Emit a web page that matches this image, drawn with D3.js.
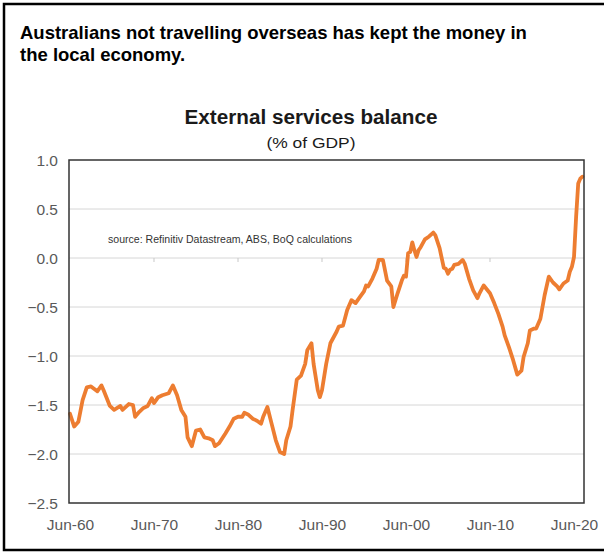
<!DOCTYPE html>
<html>
<head>
<meta charset="utf-8">
<script src="https://cdn.jsdelivr.net/npm/d3@7"></script>
<style>
  html, body { margin: 0; padding: 0; background: #fff; }
  svg { display: block; }
</style>
</head>
<body>
<svg id="chart" width="604" height="552"></svg>
<script>
// Quarterly external services balance, % of GDP (quarter-end month)
const periods = [
  "1960-06","1960-12","1961-06","1961-12","1962-06","1962-12","1963-09","1964-03","1964-06","1965-03",
  "1965-09","1966-06","1966-09","1967-06","1967-12","1968-03","1968-09","1969-03","1969-09","1970-03",
  "1970-06","1970-12","1971-06","1972-03","1972-09","1973-03","1973-09","1974-03","1974-06","1974-12",
  "1975-06","1975-12","1976-06","1976-12","1977-06","1977-09","1978-03","1978-12","1979-06","1979-12",
  "1980-06","1980-12","1981-03","1981-09","1982-03","1982-09","1983-03","1983-06","1983-12","1984-06",
  "1984-12","1985-06","1985-12","1986-03","1986-09","1986-12","1987-06","1987-12","1988-06","1988-09",
  "1989-03","1989-06","1989-12","1990-03","1990-06","1990-12","1991-06","1992-03","1992-06","1992-12",
  "1993-06","1993-12","1994-06","1994-12","1995-06","1995-09","1995-12","1996-06","1996-12","1997-03",
  "1997-09","1998-03","1998-09","1998-12","1999-06","1999-12","2000-03","2000-06","2000-09","2000-12",
  "2001-03","2001-06","2001-09","2001-12","2002-03","2002-09","2003-03","2003-09","2003-12","2004-06",
  "2004-12","2005-03","2005-06","2005-09","2005-12","2006-03","2006-09","2007-03","2007-06","2007-12",
  "2008-06","2008-12","2009-03","2009-09","2010-06","2010-12","2011-06","2011-12","2012-03","2012-09",
  "2013-03","2013-09","2014-03","2014-06","2014-12","2015-03","2015-09","2015-12","2016-06","2016-12",
  "2017-06","2017-12","2018-06","2018-09","2019-03","2019-09","2019-12","2020-03","2020-06","2020-09",
  "2020-12","2021-03","2021-06"
];
const balance = [
  -1.59,-1.72,-1.67,-1.45,-1.32,-1.31,-1.36,-1.30,-1.35,-1.51,
  -1.55,-1.51,-1.55,-1.49,-1.50,-1.62,-1.57,-1.53,-1.51,-1.43,
  -1.48,-1.42,-1.40,-1.38,-1.30,-1.40,-1.55,-1.62,-1.83,-1.92,
  -1.76,-1.75,-1.83,-1.84,-1.86,-1.92,-1.89,-1.79,-1.72,-1.64,
  -1.62,-1.62,-1.58,-1.60,-1.64,-1.66,-1.69,-1.62,-1.52,-1.69,
  -1.86,-1.98,-2.00,-1.86,-1.72,-1.55,-1.24,-1.20,-1.08,-0.94,
  -0.87,-1.08,-1.35,-1.42,-1.35,-1.08,-0.87,-0.75,-0.70,-0.69,
  -0.53,-0.43,-0.46,-0.40,-0.34,-0.28,-0.29,-0.21,-0.11,-0.02,
  -0.02,-0.23,-0.29,-0.50,-0.36,-0.23,-0.18,-0.19,0.05,0.06,
  0.16,0.08,0.01,0.08,0.11,0.19,0.22,0.26,0.23,0.10,
  -0.10,-0.11,-0.16,-0.12,-0.11,-0.07,-0.06,-0.02,-0.06,-0.21,
  -0.33,-0.41,-0.36,-0.28,-0.36,-0.46,-0.57,-0.70,-0.79,-0.91,
  -1.04,-1.19,-1.15,-1.01,-0.87,-0.74,-0.72,-0.72,-0.62,-0.38,
  -0.19,-0.25,-0.29,-0.32,-0.26,-0.23,-0.14,-0.09,0.01,0.42,
  0.76,0.81,0.83
];
const yTicks = [1.0, 0.5, 0.0, -0.5, -1.0, -1.5, -2.0, -2.5];
const xTickDates = ["1960-06","1970-06","1980-06","1990-06","2000-06","2010-06","2020-06"];

const headline = ["Australians not travelling overseas has kept the money in", "the local economy."];
const title = "External services balance";
const subtitle = "(% of GDP)";
const sourceNote = "source:  Refinitiv Datastream,  ABS, BoQ calculations";

const parse = d3.timeParse("%Y-%m");
const fmtTick = d3.timeFormat("Jun-%y");
const data = periods.map((p, i) => ({ date: parse(p), value: balance[i] }));

const svg = d3.select("#chart");
const plot = { left: 69, right: 584, top: 160, bottom: 503 };
const font = "Liberation Sans, Arial, sans-serif";

const x = d3.scaleTime()
  .domain([parse("1960-06"), parse("2020-06")])
  .range([70, 574]);
const y = d3.scaleLinear()
  .domain([-2.5, 1.0])
  .range([plot.bottom, plot.top]);

// outer panel border (left, top, bottom)
svg.append("path")
  .attr("d", "M604,4 H4 V550 H604")
  .attr("fill", "none")
  .attr("stroke", "#000")
  .attr("stroke-width", 2.5);

// headline
svg.append("g")
  .selectAll("text")
  .data(headline)
  .join("text")
  .attr("x", 20)
  .attr("y", (d, i) => 39 + i * 22)
  .attr("font-family", font)
  .attr("font-weight", "bold")
  .attr("font-size", 18.5)
  .attr("fill", "#000")
  .text(d => d);

// chart title and units
svg.append("text")
  .attr("x", 311).attr("y", 124)
  .attr("text-anchor", "middle")
  .attr("font-family", font)
  .attr("font-weight", "bold")
  .attr("font-size", 20)
  .attr("textLength", 253)
  .attr("lengthAdjust", "spacingAndGlyphs")
  .attr("fill", "#1a1a1a")
  .text(title);
svg.append("text")
  .attr("x", 311).attr("y", 148)
  .attr("text-anchor", "middle")
  .attr("font-family", font)
  .attr("font-size", 15.5)
  .attr("textLength", 89)
  .attr("lengthAdjust", "spacingAndGlyphs")
  .attr("fill", "#1a1a1a")
  .text(subtitle);

// horizontal gridlines
svg.append("g")
  .selectAll("line")
  .data(yTicks.filter(v => v > -2.5 && v < 1.0))
  .join("line")
  .attr("x1", plot.left).attr("x2", plot.right)
  .attr("y1", d => y(d)).attr("y2", d => y(d))
  .attr("stroke", "#d6d6d6")
  .attr("stroke-width", 1);

// category ticks hanging off the zero line
svg.append("g")
  .selectAll("line")
  .data(xTickDates.slice(1, -1))
  .join("line")
  .attr("x1", d => x(parse(d))).attr("x2", d => x(parse(d)))
  .attr("y1", y(0)).attr("y2", y(0) + 4)
  .attr("stroke", "#c8c8c8")
  .attr("stroke-width", 1);

// y axis labels
const yAxis = d3.axisLeft(y).tickValues(yTicks).tickSize(0).tickPadding(0)
  .tickFormat(d3.format(".1f"));
const gy = svg.append("g")
  .attr("transform", `translate(58,0)`)
  .call(yAxis);
gy.select(".domain").remove();
gy.selectAll("text")
  .attr("font-family", font)
  .attr("font-size", 15.5)
  .attr("fill", "#595959")
  .attr("dy", "0.35em");

// x axis labels
const xAxis = d3.axisBottom(x).tickValues(xTickDates.map(parse)).tickSize(0).tickPadding(0)
  .tickFormat(fmtTick);
const gx = svg.append("g")
  .attr("transform", `translate(0,525)`)
  .call(xAxis);
gx.select(".domain").remove();
gx.selectAll("text")
  .attr("font-family", font)
  .attr("font-size", 15.5)
  .attr("fill", "#595959")
  .attr("dy", "0.35em");

// source note
svg.append("text")
  .attr("x", 108).attr("y", 243)
  .attr("font-family", font)
  .attr("font-size", 10.5)
  .attr("textLength", 244)
  .attr("lengthAdjust", "spacingAndGlyphs")
  .attr("fill", "#333")
  .text(sourceNote);

// series line
const line = d3.line()
  .x(d => x(d.date))
  .y(d => y(d.value));
svg.append("path")
  .datum(data)
  .attr("d", line)
  .attr("fill", "none")
  .attr("stroke", "#ED7D31")
  .attr("stroke-width", 3.8)
  .attr("stroke-linejoin", "round")
  .attr("stroke-linecap", "round");

// plot frame
svg.append("rect")
  .attr("x", plot.left).attr("y", plot.top)
  .attr("width", plot.right - plot.left)
  .attr("height", plot.bottom - plot.top)
  .attr("fill", "none")
  .attr("stroke", "#333")
  .attr("stroke-width", 1.5);
</script>
</body>
</html>
